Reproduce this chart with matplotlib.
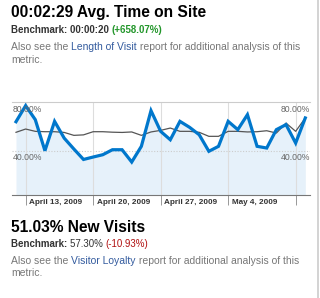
import matplotlib
matplotlib.use("Agg")
import matplotlib.pyplot as plt
import numpy as np

plt.rcParams["font.family"] = ["Liberation Sans", "DejaVu Sans"]

# daily values, % (31 days)
visits = [63.8, 77.0, 65.5, 40.0, 64.1, 50.3, 41.4, 32.8, 34.8, 36.7, 40.8,
          40.8, 30.7, 43.6, 72.9, 55.9, 49.0, 64.1, 59.2, 53.1, 39.5, 43.6,
          64.1, 57.3, 69.6, 43.6, 42.2, 57.3, 61.4, 46.3, 66.9]
benchmark = [55.1, 57.8, 55.9, 55.6, 55.6, 55.0, 52.6, 53.0, 55.6, 55.6, 55.2,
             55.0, 55.4, 52.6, 55.4, 56.7, 58.6, 55.9, 55.9, 55.1, 51.8, 51.8,
             55.9, 55.9, 55.4, 55.6, 56.4, 54.5, 62.7, 55.9, 66.9]
tick_idx = [1, 8, 15, 22, 29]
tick_labels = ["April 13, 2009", "April 20, 2009", "April 27, 2009", "May 4, 2009", ""]
y_levels = [40, 80]
y_labels = ["40.00%", "80.00%"]

W, H = 320, 298
fig = plt.figure(figsize=(W / 100, H / 100), dpi=100)
fig.patch.set_facecolor("white")


def runs(x, y, parts, size, weight="normal"):
    # draw text pieces one after another on the same baseline
    r = fig.canvas.get_renderer()
    for txt, color, w in parts:
        t = fig.text(x / W, 1 - y / H, txt, fontsize=size, color=color,
                     fontweight=w or weight, va="baseline", ha="left")
        bb = t.get_window_extent(renderer=r)
        x += bb.width


# top block
runs(11, 17, [("00:02:29 Avg. Time on Site", "black", "bold")], 11.2)
runs(11, 33, [("Benchmark: 00:00:20 ", "#333333", "bold"),
              ("(+658.07%)", "#22962a", "bold")], 7.05)
runs(11, 50, [("Also see the ", "#777777", None), ("Length of Visit", "#335b9e", None),
              (" report for additional analysis of this", "#777777", None)], 7.45)
runs(11, 63, [("metric.", "#777777", None)], 7.45)

# bottom block
runs(11, 232, [("51.03% New Visits", "black", "bold")], 11.2)
runs(11, 247, [("Benchmark: ", "#333333", "bold"), ("57.30% ", "#333333", None),
               ("(-10.93%)", "#b01010", None)], 7.05)
runs(11, 264, [("Also see the ", "#777777", None), ("Visitor Loyalty", "#335b9e", None),
               (" report for additional analysis of this", "#777777", None)], 7.45)
runs(11, 276, [("metric.", "#777777", None)], 7.45)

# page border on the right
fig.add_artist(plt.Line2D([317.5 / W, 317.5 / W], [0, 1], color="#cccccc", lw=1.2))

# chart
left, right, top, bottom = 11.7, 310, 102, 195
ax = fig.add_axes([left / W, 1 - bottom / H, (right - left) / W, (bottom - top) / H])
px = (305.3 - 16) / 30
ax.set_xlim(-(16 - left) / px, 30 + (right - 305.3) / px)
ax.set_ylim(80 - (bottom - top) / 48.7 * 40, 80)
for s in ["left", "right"]:
    ax.spines[s].set_visible(False)
ax.spines["top"].set_color("#cccccc")
ax.spines["top"].set_linewidth(0.8)
ax.spines["bottom"].set_color("#777777")
ax.spines["bottom"].set_linewidth(0.8)

x = np.arange(len(visits))
ax.fill_between(x, visits, ax.get_ylim()[0], color="#e6f1fa", lw=0, zorder=1)
ax.axhline(y_levels[0], color="#cccccc", lw=0.8, ls=(0, (1, 1.5)), zorder=2)
for i in tick_idx:
    ax.axvline(i, color="#dddddd", lw=0.8, zorder=2)
ax.plot(x, benchmark, color="#555555", lw=0.9, zorder=3)
ax.plot(x, visits, color="#0077cc", lw=2.3, zorder=4, solid_joinstyle="miter")

ax.set_yticks([])
ax.set_xticks(tick_idx)
ax.set_xticklabels([])
ax.tick_params(axis="x", direction="out", length=7, width=0.6, color="#888888")
for i, lab in zip(tick_idx, tick_labels):
    ax.annotate(lab, (i, 0), xycoords=("data", "axes fraction"), xytext=(2.6, -3.2),
                textcoords="offset points", ha="left", va="top", fontsize=5.9,
                fontweight="bold", color="#333333")

for v, lab in zip(y_levels, y_labels):
    ax.annotate(lab, (0, v), xycoords=("axes fraction", "data"), xytext=(1, -2),
                textcoords="offset points", ha="left", va="top", fontsize=6.2,
                color="#666666", zorder=5)
    ax.annotate(lab, (1, v), xycoords=("axes fraction", "data"), xytext=(0, -2),
                textcoords="offset points", ha="right", va="top", fontsize=6.2,
                color="#666666", zorder=5)

fig.savefig("out.png", dpi=100)
